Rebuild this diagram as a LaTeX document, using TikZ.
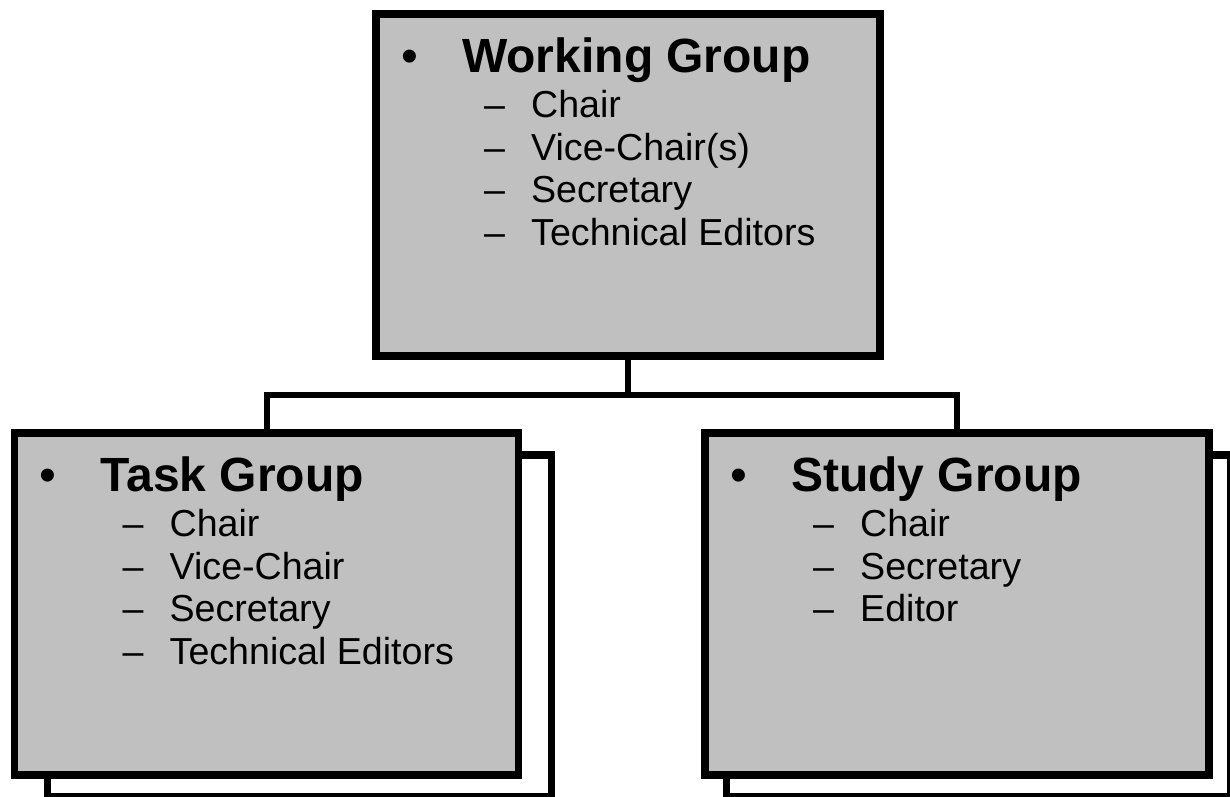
\documentclass[tikz,border=0pt]{standalone}
\usepackage{fontspec}
\setmainfont{Liberation Sans}
\definecolor{boxgray}{RGB}{192,192,192}
\newcommand{\roleitem}[1]{\makebox[47pt][l]{–}#1}
\begin{document}
\begin{tikzpicture}[x=1pt, y=1pt,
    grpbox/.style={draw, line width=7.5pt, fill=boxgray, minimum width=504pt,
      minimum height=342pt, inner sep=0pt, outer sep=0pt},
    backbox/.style={grpbox, fill=white},
    dot/.style={anchor=base, inner sep=0pt, font=\fontsize{48}{57}\selectfont},
    head/.style={anchor=base west, inner sep=0pt, font=\fontsize{48}{57}\selectfont\bfseries},
    entry/.style={anchor=base west, inner sep=0pt, font=\fontsize{37.6}{44}\selectfont},
    link/.style={line width=6pt}]
  \useasboundingbox (0,0) rectangle (1230,-796);
  \clip (0,0) rectangle (1230,-796);

  % boxes
  \node[grpbox] (wg) at (628,-185) {};
  \node[backbox] (tgback) at (299.5,-626) {};
  \node[grpbox] (tg) at (266.5,-604) {};
  \node[backbox] (sgback) at (978.5,-626) {};
  \node[grpbox] (sg) at (957,-604) {};

  % connectors
  \draw[link] (wg.south) -- ++(0,-39) coordinate (bus);
  \draw[link] (tg.north) |- (bus) -| (sg.north);

  % working group
  \node[dot, shift={(33.5,-58)}] (wgdot) at (wg.north west) {•};
  \node[head, shift={(86,-58)}] (wghead) at (wg.north west) {Working Group};
  \node[entry, shift={(108,-103.5)}] (wg1) at (wg.north west) {\roleitem{Chair}};
  \node[entry, shift={(108,-146)}] (wg2) at (wg.north west) {\roleitem{Vice-Chair(s)}};
  \node[entry, shift={(108,-188.5)}] (wg3) at (wg.north west) {\roleitem{Secretary}};
  \node[entry, shift={(108,-231)}] (wg4) at (wg.north west) {\roleitem{Technical Editors}};

  % task group
  \node[dot, shift={(33.5,-58)}] (tgdot) at (tg.north west) {•};
  \node[head, shift={(86,-58)}] (tghead) at (tg.north west) {Task Group};
  \node[entry, shift={(108,-103.5)}] (tg1) at (tg.north west) {\roleitem{Chair}};
  \node[entry, shift={(108,-146)}] (tg2) at (tg.north west) {\roleitem{Vice-Chair}};
  \node[entry, shift={(108,-188.5)}] (tg3) at (tg.north west) {\roleitem{Secretary}};
  \node[entry, shift={(108,-231)}] (tg4) at (tg.north west) {\roleitem{Technical Editors}};

  % study group
  \node[dot, shift={(33.5,-58)}] (sgdot) at (sg.north west) {•};
  \node[head, shift={(86,-58)}] (sghead) at (sg.north west) {Study Group};
  \node[entry, shift={(108,-103.5)}] (sg1) at (sg.north west) {\roleitem{Chair}};
  \node[entry, shift={(108,-146)}] (sg2) at (sg.north west) {\roleitem{Secretary}};
  \node[entry, shift={(108,-188.5)}] (sg3) at (sg.north west) {\roleitem{Editor}};
\end{tikzpicture}
\end{document}
